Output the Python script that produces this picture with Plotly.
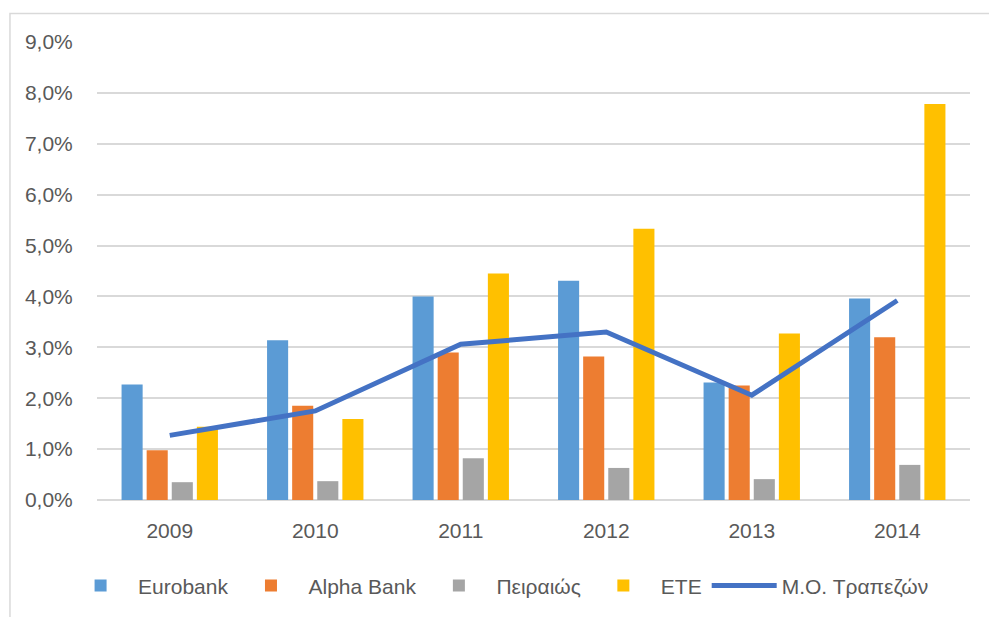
import plotly.graph_objects as go

years = ["2009", "2010", "2011", "2012", "2013", "2014"]
eurobank = [0.0227, 0.0314, 0.0400, 0.0431, 0.0231, 0.0396]
alpha = [0.0098, 0.0185, 0.0290, 0.0282, 0.0225, 0.0320]
piraeus = [0.0035, 0.0037, 0.0082, 0.0063, 0.0041, 0.0069]
ete = [0.0144, 0.0159, 0.0445, 0.0533, 0.0327, 0.0778]
avg = [0.0127, 0.0175, 0.0306, 0.0330, 0.0206, 0.0392]

names = ["Eurobank", "Alpha Bank", "Πειραιώς", "ETE", "Μ.Ο. Τραπεζών"]
colors = ["#5B9BD5", "#ED7D31", "#A5A5A5", "#FFC000", "#4472C4"]

fig = go.Figure()
for vals, nm, col in zip([eurobank, alpha, piraeus, ete], names[:4], colors[:4]):
    fig.add_trace(go.Bar(x=years, y=vals, name=nm, marker=dict(color=col, line=dict(width=0))))
fig.add_trace(go.Scatter(x=years, y=avg, name=names[4], mode="lines",
                         line=dict(color=colors[4], width=5)))

font_family = "Liberation Sans, Arial, sans-serif"
fig.update_layout(
    width=989, height=617,
    margin=dict(l=97, r=19, t=42, b=116),
    paper_bgcolor="white", plot_bgcolor="white",
    barmode="group", bargap=0.31, bargroupgap=0.16,
    separators=",.",
    font=dict(family=font_family, size=21, color="#595959"),
    showlegend=True,
    legend=dict(orientation="h", x=0.46, xanchor="center", y=-0.185, yanchor="middle",
                font=dict(size=21, color="#595959"), itemwidth=65, traceorder="normal"),
    xaxis=dict(showgrid=False, showline=False, zeroline=False,
               ticks="outside", ticklen=12, tickcolor="rgba(0,0,0,0)"),
    yaxis=dict(range=[0, 0.09], dtick=0.01, tickformat=".1%",
               showgrid=True, gridcolor="#D9D9D9", gridwidth=1.5,
               zeroline=True, zerolinecolor="#D9D9D9", zerolinewidth=1.5,
               showline=False, ticks="outside", ticklen=19, tickcolor="rgba(0,0,0,0)"),
)
fig.add_shape(type="rect", xref="paper", yref="paper",
              x0=-0.0997, x1=1.2, y0=-0.4, y1=1.062,
              line=dict(color="#D9D9D9", width=1.5), fillcolor="rgba(0,0,0,0)", layer="below")

fig.write_html("out.html")
